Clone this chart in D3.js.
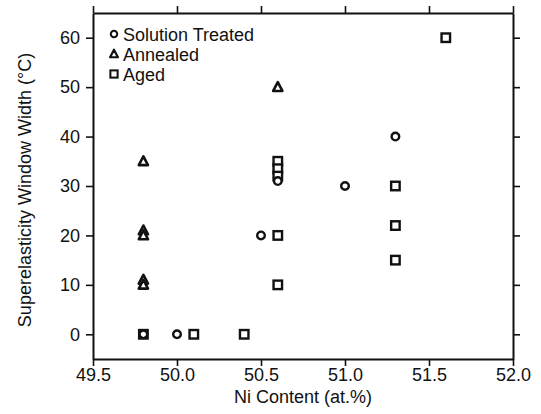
<!DOCTYPE html>
<html>
<head>
<meta charset="utf-8">
<script src="https://cdn.jsdelivr.net/npm/d3@7"></script>
<style>
  html, body { margin: 0; padding: 0; background: #fff; }
  svg { display: block; font-family: "Liberation Sans", Arial, Helvetica, sans-serif; }
</style>
</head>
<body>
<svg id="chart" width="541" height="414"></svg>
<script>
// Superelasticity window width vs. Ni content for three heat-treatment conditions
const solutionNi    = [49.8, 50.0, 50.5, 50.6, 51.0, 51.3];
const solutionWidth = [0, 0, 20, 31, 30, 40];

const annealedNi    = [49.8, 49.8, 49.8, 49.8, 49.8, 50.6];
const annealedWidth = [35, 21, 20, 11, 10, 50];

const agedNi    = [49.8, 50.1, 50.4, 50.6, 50.6, 50.6, 50.6, 50.6, 51.3, 51.3, 51.3, 51.6];
const agedWidth = [0, 0, 0, 35, 33.5, 32, 20, 10, 30, 22, 15, 60];

const xTicks = [49.5, 50.0, 50.5, 51.0, 51.5, 52.0];
const yTicks = [0, 10, 20, 30, 40, 50, 60];

const legendLabels = ["Solution Treated", "Annealed", "Aged"];
const legendShapes = ["circle", "triangle", "square"];

const svg = d3.select("#chart");
const plotLeft = 93, plotRight = 513, plotTop = 13, plotBottom = 359;

const x = d3.scaleLinear().domain([49.5, 52.0]).range([plotLeft, plotRight]);
const y = d3.scaleLinear().domain([-5, 65]).range([plotBottom, plotTop]);

const ink = "#111";
const tickLen = 7;
const fontSize = "18px";

// Axes on all four sides, ticks pointing outward
function styleAxis(g, showLabels) {
  g.select(".domain").attr("stroke", ink).attr("stroke-width", 2);
  g.selectAll(".tick line").attr("stroke", ink).attr("stroke-width", 1.6);
  g.selectAll(".tick text")
    .attr("fill", ink)
    .style("font-size", fontSize)
    .style("display", showLabels ? null : "none");
}

svg.append("g")
  .attr("transform", `translate(0,${plotBottom})`)
  .call(d3.axisBottom(x).tickValues(xTicks).tickFormat(d3.format(".1f"))
        .tickSizeInner(tickLen).tickSizeOuter(0).tickPadding(2))
  .call(g => styleAxis(g, true));

svg.append("g")
  .attr("transform", `translate(0,${plotTop})`)
  .call(d3.axisTop(x).tickValues(xTicks).tickSizeInner(tickLen).tickSizeOuter(0))
  .call(g => styleAxis(g, false));

svg.append("g")
  .attr("transform", `translate(${plotLeft},0)`)
  .call(d3.axisLeft(y).tickValues(yTicks).tickFormat(d3.format("d"))
        .tickSizeInner(tickLen).tickSizeOuter(0).tickPadding(6))
  .call(g => styleAxis(g, true));

svg.append("g")
  .attr("transform", `translate(${plotRight},0)`)
  .call(d3.axisRight(y).tickValues(yTicks).tickSizeInner(tickLen).tickSizeOuter(0))
  .call(g => styleAxis(g, false));

// Axis titles
svg.append("text")
  .attr("x", (plotLeft + plotRight) / 2)
  .attr("y", 403)
  .attr("text-anchor", "middle")
  .attr("fill", ink)
  .style("font-size", fontSize)
  .text("Ni Content (at.%)");

svg.append("text")
  .attr("transform", "translate(31,190) rotate(-90)")
  .attr("text-anchor", "middle")
  .attr("fill", ink)
  .style("font-size", fontSize)
  .text("Superelasticity Window Width (°C)");

// Marker drawing
function marker(g, shape) {
  const s = 8.5;
  if (shape === "circle") {
    g.append("circle").attr("r", 3.8)
      .attr("fill", "#fff").attr("stroke", ink).attr("stroke-width", 2.4);
  } else if (shape === "square") {
    g.append("rect").attr("x", -s / 2).attr("y", -s / 2).attr("width", s).attr("height", s)
      .attr("fill", "#fff").attr("stroke", ink).attr("stroke-width", 2.4);
  } else {
    g.append("path").attr("d", "M0,-5L4.6,3.8L-4.6,3.8Z")
      .attr("fill", "#fff").attr("stroke", ink).attr("stroke-width", 2.6)
      .attr("stroke-linejoin", "round");
  }
}

function plotSeries(xs, ys, shape) {
  const data = xs.map((v, i) => ({ ni: v, w: ys[i] }));
  svg.append("g").selectAll("g")
    .data(data)
    .join("g")
    .attr("transform", d => `translate(${x(d.ni)},${y(d.w)})`)
    .each(function () { marker(d3.select(this), shape); });
}

plotSeries(agedNi, agedWidth, "square");
plotSeries(annealedNi, annealedWidth, "triangle");
plotSeries(solutionNi, solutionWidth, "circle");

// Legend
const legend = svg.append("g").attr("transform", "translate(114,34)");
legendLabels.forEach((label, i) => {
  const row = legend.append("g").attr("transform", `translate(0,${i * 20})`);
  marker(row.append("g").attr("transform", "scale(0.85)"), legendShapes[i]);
  row.append("text")
    .attr("x", 9)
    .attr("y", 6.5)
    .attr("fill", ink)
    .style("font-size", fontSize)
    .text(label);
});
</script>
</body>
</html>
